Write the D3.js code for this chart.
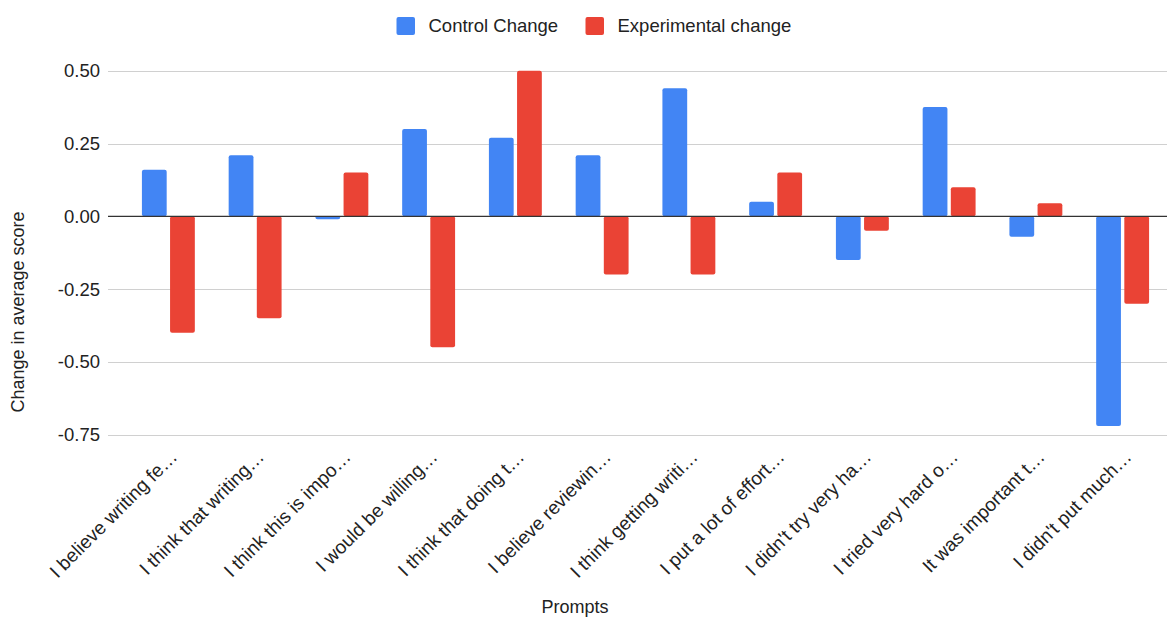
<!DOCTYPE html>
<html>
<head>
<meta charset="utf-8">
<script src="https://cdn.jsdelivr.net/npm/d3@7"></script>
<style>
  html, body { margin: 0; padding: 0; background: #fff; }
  svg { display: block; font-family: "Liberation Sans", Arial, sans-serif; }
</style>
</head>
<body>
<svg id="chart" width="1167" height="617"></svg>
<script>
// Survey prompts (shortened as shown on the axis)
const prompts = [
  "I believe writing fe…",
  "I think that writing…",
  "I think this is impo…",
  "I would be willing…",
  "I think that doing t…",
  "I believe reviewin…",
  "I think getting writi…",
  "I put a lot of effort…",
  "I didn't try very ha…",
  "I tried very hard o…",
  "It was important t…",
  "I didn't put much…"
];
const controlChange = [0.16, 0.21, -0.01, 0.30, 0.27, 0.21, 0.44, 0.05, -0.15, 0.375, -0.07, -0.72];
const experimentalChange = [-0.40, -0.35, 0.15, -0.45, 0.50, -0.20, -0.20, 0.15, -0.05, 0.10, 0.045, -0.30];
const seriesNames = ["Control Change", "Experimental change"];
const seriesColors = ["#4285F4", "#EA4335"];
const yTicks = [0.5, 0.25, 0, -0.25, -0.5, -0.75];

const svg = d3.select("#chart");
const textColor = "#222";

const y = d3.scaleLinear().domain([-0.75, 0.5]).range([434.7, 70.7]);
const x = d3.scaleBand().domain(d3.range(prompts.length))
  .range([125, 1166]).paddingInner(0.39).paddingOuter(0.195);
const xs = d3.scaleBand().domain([0, 1]).range([0, x.bandwidth()]).paddingInner(0.12);

const gridLeft = 108, gridRight = 1167;

// Horizontal gridlines
svg.append("g").selectAll("line").data(yTicks.filter(d => d !== 0)).join("line")
  .attr("x1", gridLeft).attr("x2", gridRight)
  .attr("y1", d => Math.round(y(d)) + 0.5).attr("y2", d => Math.round(y(d)) + 0.5)
  .attr("stroke", "#d0d0d0").attr("stroke-width", 1);

// Y tick labels
const fmt = d3.format(".2f");
svg.append("g").selectAll("text").data(yTicks).join("text")
  .attr("x", 100).attr("y", d => y(d))
  .attr("dy", "0.35em")
  .attr("text-anchor", "end")
  .attr("font-size", 18.5)
  .attr("fill", textColor)
  .text(d => d === 0 ? "0.00" : fmt(d).replace("−", "-"));

// Bars
const rows = prompts.map((p, i) => [controlChange[i], experimentalChange[i]]);
const groups = svg.append("g").selectAll("g").data(rows).join("g")
  .attr("transform", (d, i) => `translate(${x(i)},0)`);
groups.selectAll("rect").data(d => d.map((v, k) => ({ v, k }))).join("rect")
  .attr("x", d => xs(d.k))
  .attr("width", xs.bandwidth())
  .attr("y", d => Math.min(y(d.v), y(0)))
  .attr("height", d => Math.abs(y(d.v) - y(0)))
  .attr("rx", 2).attr("ry", 2)
  .attr("fill", d => seriesColors[d.k]);

// Zero baseline
svg.append("line")
  .attr("x1", gridLeft).attr("x2", gridRight)
  .attr("y1", y(0)).attr("y2", y(0))
  .attr("stroke", "#333").attr("stroke-width", 1.3);

// Rotated category labels
svg.append("g").selectAll("text").data(prompts).join("text")
  .attr("transform", (d, i) => `translate(${x(i) + x.bandwidth() / 2 + 10},458) rotate(-45)`)
  .attr("text-anchor", "end")
  .attr("font-size", 19)
  .attr("fill", textColor)
  .text(d => d);

// Axis titles
svg.append("text")
  .attr("transform", "translate(24,312) rotate(-90)")
  .attr("text-anchor", "middle")
  .attr("font-size", 18)
  .attr("fill", textColor)
  .text("Change in average score");

svg.append("text")
  .attr("x", 575).attr("y", 613)
  .attr("text-anchor", "middle")
  .attr("font-size", 18)
  .attr("fill", textColor)
  .text("Prompts");

// Legend
const legendX = [396.5, 585.5];
const legend = svg.append("g").selectAll("g").data(seriesNames).join("g")
  .attr("transform", (d, i) => `translate(${legendX[i]},17)`);
legend.append("rect")
  .attr("width", 18.5).attr("height", 18)
  .attr("rx", 2).attr("ry", 2)
  .attr("fill", (d, i) => seriesColors[i]);
legend.append("text")
  .attr("x", 32).attr("y", 9)
  .attr("dy", "0.35em")
  .attr("font-size", 18.5)
  .attr("fill", textColor)
  .text(d => d);
</script>
</body>
</html>
